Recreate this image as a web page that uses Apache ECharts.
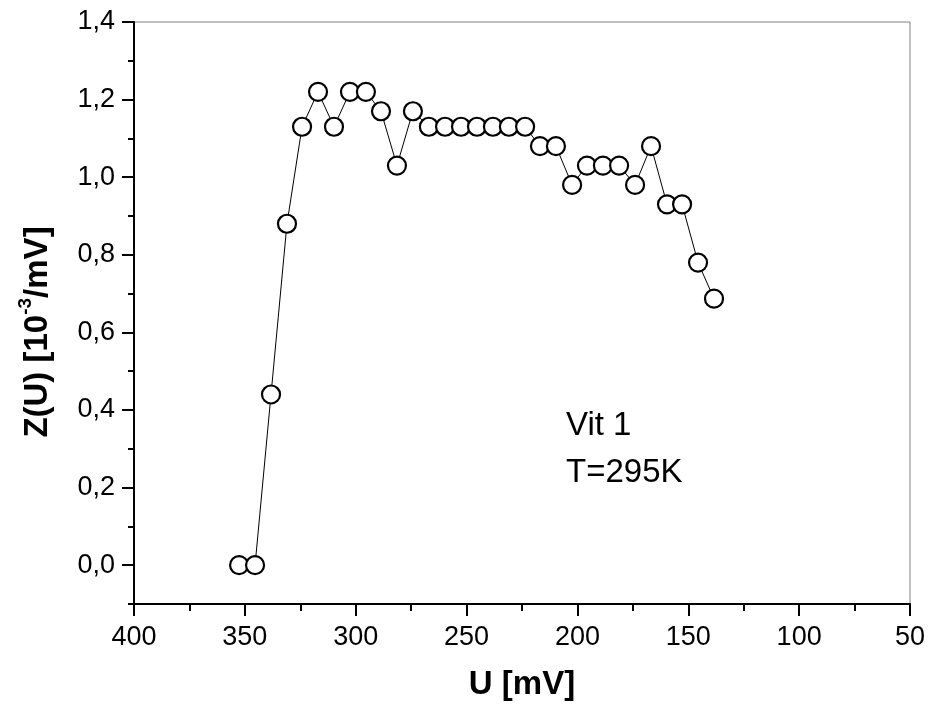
<!DOCTYPE html>
<html>
<head>
<meta charset="utf-8">
<script src="https://cdn.jsdelivr.net/npm/echarts@6/dist/echarts.min.js"></script>
<style>html,body{margin:0;padding:0;background:#fff;}#c{width:929px;height:706px;}</style>
</head>
<body>
<div id="c"></div>
<script>
var U = [352.6, 345.4, 338.2, 331.0, 324.2, 317.0, 309.8, 302.6, 295.4, 288.6, 281.4, 274.2, 267.0, 259.7, 252.5, 245.3, 238.1, 230.9, 223.6, 216.9, 209.7, 202.4, 195.7, 188.5, 181.2, 174.0, 166.8, 159.6, 152.8, 145.6, 138.4];
var Z = [0, 0, 0.44, 0.88, 1.13, 1.22, 1.13, 1.22, 1.22, 1.17, 1.03, 1.17, 1.13, 1.13, 1.13, 1.13, 1.13, 1.13, 1.13, 1.08, 1.08, 0.98, 1.03, 1.03, 1.03, 0.98, 1.08, 0.93, 0.93, 0.78, 0.687];
var yMajor = [0, 0.2, 0.4, 0.6, 0.8, 1.0, 1.2, 1.4];
var annotation = ['Vit 1', 'T=295K'];

var FONT = '"Liberation Sans", Arial, sans-serif';
var chart = echarts.init(document.getElementById('c'), null, {renderer: 'canvas'});
var data = U.map(function (u, i) { return [u, Z[i]]; });

chart.setOption({
  animation: false,
  backgroundColor: '#fff',
  grid: {left: 134, right: 19, top: 22, bottom: 101, show: true, borderColor: '#808080', borderWidth: 1, backgroundColor: 'transparent'},
  xAxis: {
    type: 'value', inverse: true, min: 50, max: 400, interval: 50,
    name: 'U [mV]', nameLocation: 'middle', nameGap: 64,
    nameTextStyle: {fontFamily: FONT, fontWeight: 'bold', fontSize: 33, color: '#000'},
    axisLine: {show: true, onZero: false, lineStyle: {color: '#000', width: 2}},
    axisTick: {show: true, inside: false, length: 12, lineStyle: {color: '#000', width: 2}},
    minorTick: {show: true, splitNumber: 2, length: 7, lineStyle: {color: '#000', width: 2}},
    axisLabel: {fontFamily: FONT, fontSize: 27, color: '#000', margin: 20},
    splitLine: {show: false}, minorSplitLine: {show: false}
  },
  yAxis: [{
    type: 'value', min: -0.1, max: 1.4, position: 'left',
    name: '{a|Z(U) [10}{s|-3}{a|/mV]}', nameLocation: 'middle', nameGap: 80, nameRotate: 90,
    nameTextStyle: {color: '#000', padding: [0, 38, 0, 0], rich: {
      a: {fontFamily: FONT, fontWeight: 'bold', fontSize: 33, color: '#000', lineHeight: 38, verticalAlign: 'bottom'},
      s: {fontFamily: FONT, fontWeight: 'bold', fontSize: 19, color: '#000', lineHeight: 38, verticalAlign: 'top'}
    }},
    axisLine: {show: true, onZero: false, lineStyle: {color: '#000', width: 2}},
    axisTick: {show: true, inside: false, length: 12, customValues: yMajor, lineStyle: {color: '#000', width: 2}},
    axisLabel: {fontFamily: FONT, fontSize: 27, color: '#000', margin: 19, customValues: yMajor,
      formatter: function (v) { return v.toFixed(1).replace('.', ','); }},
    splitLine: {show: false}
  }, {
    type: 'value', min: -0.1, max: 1.4, interval: 0.1, position: 'left', offset: 0,
    axisLine: {show: false, onZero: false},
    axisTick: {show: true, inside: false, length: 6, lineStyle: {color: '#000', width: 2}},
    axisLabel: {show: false},
    splitLine: {show: false}
  }],
  series: [{
    type: 'line', data: data, xAxisIndex: 0, yAxisIndex: 0,
    symbol: 'circle', symbolSize: 18, showAllSymbol: true,
    lineStyle: {color: '#000', width: 1},
    itemStyle: {color: '#fff', borderColor: '#000', borderWidth: 2.2},
    z: 3
  }],
  graphic: [{
    type: 'text', left: 566, top: 402,
    style: {text: annotation.join('\n'), fontFamily: FONT, fontSize: 33, lineHeight: 47, fill: '#000'}
  }]
});
</script>
</body>
</html>
